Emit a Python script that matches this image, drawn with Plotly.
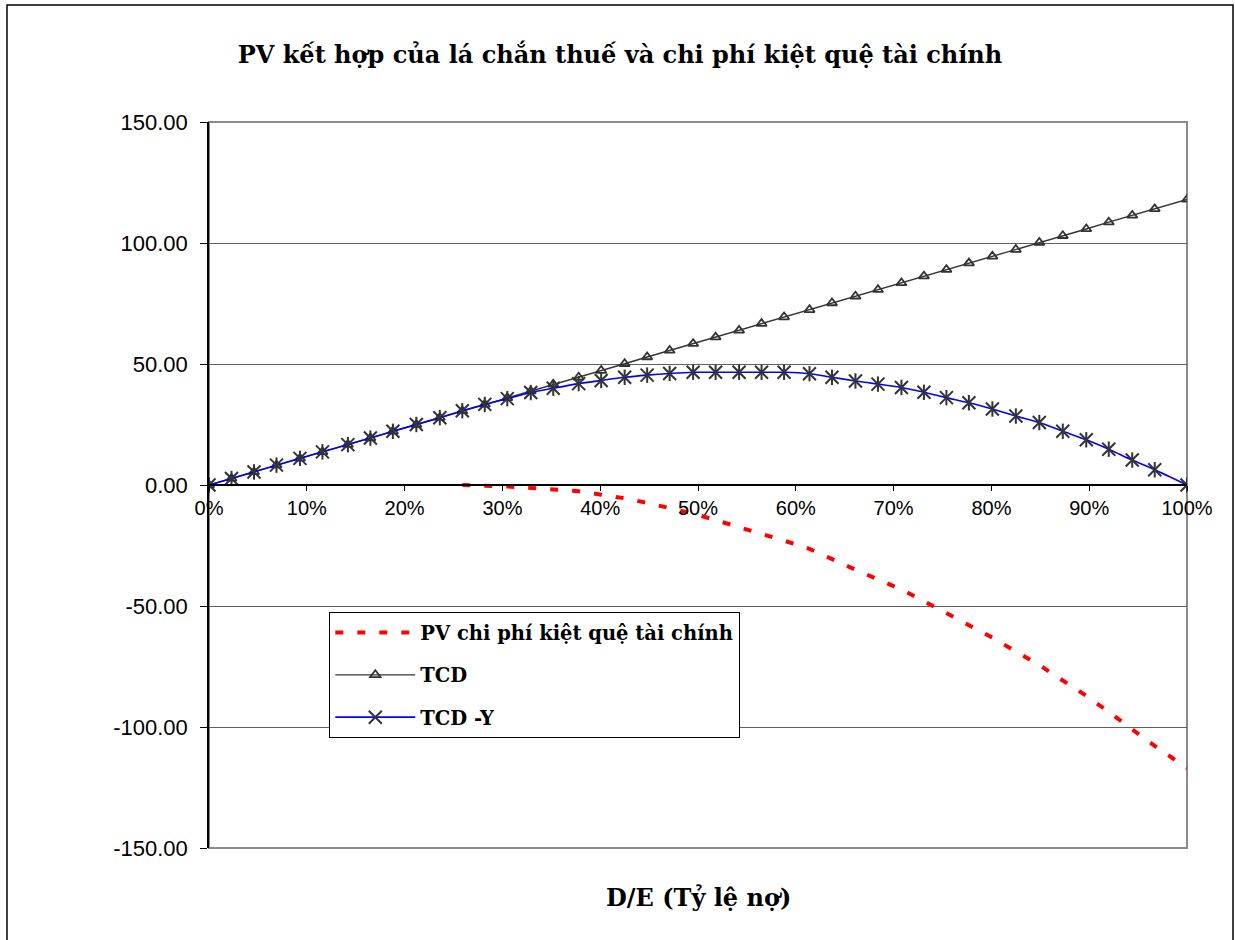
import plotly.graph_objects as go

# D/E ratio (%) at each computed point
de_ratio = [0, 2.3, 4.6, 6.9, 9.3, 11.6, 14.2, 16.5, 18.8, 21.2, 23.6, 25.9, 28.2,
            30.5, 32.9, 35.2, 37.8, 40.1, 42.5, 44.8, 47.1, 49.5, 51.8, 54.2, 56.5,
            58.8, 61.4, 63.7, 66.1, 68.4, 70.8, 73.1, 75.4, 77.7, 80.1, 82.5, 84.9,
            87.3, 89.7, 92.0, 94.4, 96.7, 100]

# PV of the tax shield (TCD)
tcd = [0, 2.7, 5.4, 8.2, 11.0, 13.7, 16.7, 19.4, 22.2, 25.0, 27.8, 30.6, 33.3,
       36.0, 38.8, 41.6, 44.5, 47.3, 50.1, 52.9, 55.6, 58.4, 61.1, 63.9, 66.7,
       69.4, 72.4, 75.2, 78.0, 80.7, 83.5, 86.3, 89.0, 91.7, 94.5, 97.3, 100.2,
       103.0, 105.8, 108.6, 111.4, 114.1, 118.0]

# Combined value: tax shield minus distress costs (TCD - Y)
tcd_minus_y = [0, 2.7, 5.4, 8.2, 11.0, 13.7, 16.7, 19.4, 22.2, 25.0, 27.8, 30.7, 33.3,
               35.7, 38.2, 40.0, 41.9, 43.2, 44.5, 45.4, 46.1, 46.6, 46.6, 46.6, 46.6,
               46.6, 46.0, 44.5, 43.0, 41.7, 40.3, 38.3, 36.1, 34.0, 31.4, 28.5, 25.8,
               22.2, 18.7, 14.8, 10.3, 6.3, 0]

# PV of financial distress costs, starting at 25.9% D/E
distress_de = de_ratio[11:]
distress_pv = [0, -0.2, -0.6, -1.2, -1.9, -2.6, -4.0, -5.5, -7.4, -9.4, -11.8,
               -14.5, -17.3, -20.1, -23.0, -26.4, -30.7, -35.0, -39.0, -43.2, -48.0,
               -52.9, -57.7, -63.1, -68.8, -74.4, -80.8, -87.1, -93.8, -101.1, -107.8,
               -117.0]

x_ticks = [0, 10, 20, 30, 40, 50, 60, 70, 80, 90, 100]
x_tick_labels = ["0%", "10%", "20%", "30%", "40%", "50%", "60%", "70%", "80%", "90%", "100%"]
y_ticks = [-150, -100, -50, 0, 50, 100, 150]
y_tick_labels = ["-150.00", "-100.00", "-50.00", "0.00", "50.00", "100.00", "150.00"]

title_text = "PV kết hợp của lá chắn thuế và chi phí kiệt quệ tài chính"
x_title_text = "D/E (Tỷ lệ nợ)"

SERIF = "DejaVu Serif"
SANS = "Liberation Sans, Arial, sans-serif"
MARK = "#333333"

fig = go.Figure()

fig.add_trace(go.Scatter(
    x=distress_de, y=distress_pv, mode="lines",
    name="PV chi phí kiệt quệ tài chính", legendgroup="a", legendrank=1,
    line=dict(color="#ff0000", width=4, dash="8px,14px"),
))

fig.add_trace(go.Scatter(
    x=de_ratio, y=tcd, mode="lines+markers",
    name="TCD", legendgroup="b", legendrank=2,
    line=dict(color=MARK, width=1.4),
    marker=dict(symbol="triangle-up-open", size=9, color=MARK, line=dict(color=MARK, width=1.8)),
))

fig.add_trace(go.Scatter(
    x=de_ratio, y=tcd_minus_y, mode="lines+markers",
    name="TCD -Y", legendgroup="c", legendrank=3,
    line=dict(color="#0000ff", width=1.6, shape="spline", smoothing=0.6),
    marker=dict(symbol="x-thin-open", size=13, color=MARK, line=dict(color=MARK, width=2)),
))

# vertical stroke completing the six-armed star markers
fig.add_trace(go.Scatter(
    x=de_ratio, y=tcd_minus_y, mode="markers", showlegend=False, legendgroup="c",
    hoverinfo="skip",
    marker=dict(symbol="line-ns-open", size=11, color=MARK, line=dict(color=MARK, width=2)),
))

W, H = 1235, 940
L, R, T, B = 209, 48, 122, 92
pw, ph = W - L - R, H - T - B


def px_x(px):
    return (px - L) / pw


def px_y(py):
    return (H - B - py) / ph


fig.update_layout(
    width=W, height=H,
    margin=dict(l=L, r=R, t=T, b=B),
    paper_bgcolor="white", plot_bgcolor="white",
    title=dict(text=title_text, x=620 / W, xref="container", xanchor="center",
               y=1 - 55 / H, yanchor="middle",
               font=dict(family=SERIF, size=24, color="black", weight="bold")),
    xaxis=dict(range=[0, 100], tickvals=x_ticks, ticktext=x_tick_labels,
               anchor="free", position=0.5, showline=True, linecolor="black",
               linewidth=1.5, ticks="outside", ticklen=5, tickcolor="black",
               tickwidth=1.2, showgrid=False, zeroline=False,
               tickfont=dict(family=SANS, size=20, color="black")),
    yaxis=dict(range=[-150, 150], tickvals=y_ticks, ticktext=y_tick_labels,
               showline=True, linecolor="black", linewidth=1.5, ticks="outside",
               ticklen=7, tickcolor="black", tickwidth=1.2, showgrid=True,
               gridcolor="#606060", gridwidth=1.3, zeroline=False,
               ticklabelstandoff=8,
               tickfont=dict(family=SANS, size=22, color="black")),
    legend=dict(x=px_x(329), y=px_y(612), xanchor="left", yanchor="top",
                bgcolor="white", bordercolor="black", borderwidth=1.3,
                font=dict(family=SERIF, size=19.5, color="black", weight="bold"),
                traceorder="grouped", tracegroupgap=14, itemwidth=80),
    showlegend=True,
    annotations=[dict(text=x_title_text, xref="paper", yref="paper",
                      x=0.5, y=px_y(897), xanchor="center", yanchor="middle",
                      showarrow=False,
                      font=dict(family=SERIF, size=24, color="black", weight="bold"))],
    shapes=[
        # plot-area frame
        dict(type="rect", xref="paper", yref="paper", x0=0, x1=1, y0=0, y1=1,
             line=dict(color="#8a8a8a", width=2), layer="below"),
        # outer chart border
        dict(type="rect", xref="paper", yref="paper",
             x0=px_x(7), x1=px_x(1233), y0=px_y(1000), y1=px_y(5),
             line=dict(color="black", width=1.5), layer="above"),
    ],
)

fig.write_html("out.html")
